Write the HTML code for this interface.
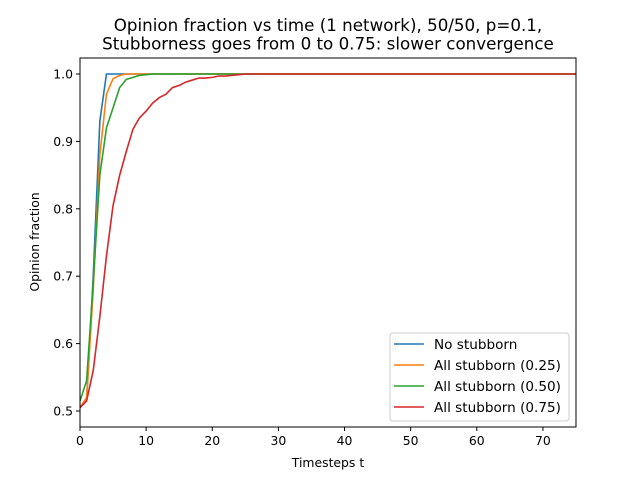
<!DOCTYPE html>
<html><head><meta charset="utf-8"><style>body{margin:0;background:#fff}svg{font-family:"DejaVu Sans","Liberation Sans",sans-serif}</style></head>
<body>
<svg id="c" width="640" height="480"></svg>
<script>
const xTicks=[0,10,20,30,40,50,60,70];
const yTicks=[0.5,0.6,0.7,0.8,0.9,1.0];
const seriesNames=["No stubborn","All stubborn (0.25)","All stubborn (0.50)","All stubborn (0.75)"];
const colors=["#1f77b4","#ff7f0e","#2ca02c","#d62728"];
const sNone=[0.505,0.515,0.70,0.93,1,1,1,1,1,1,1,1,1,1,1,1,1,1,1,1,1,1,1,1,1,1,1,1,1,1,1,1,1,1,1,1,1,1,1,1,1,1,1,1,1,1,1,1,1,1,1,1,1,1,1,1,1,1,1,1,1,1,1,1,1,1,1,1,1,1,1,1,1,1,1,1];
const s25=[0.505,0.52,0.68,0.88,0.97,0.993,0.998,1,1,1,1,1,1,1,1,1,1,1,1,1,1,1,1,1,1,1,1,1,1,1,1,1,1,1,1,1,1,1,1,1,1,1,1,1,1,1,1,1,1,1,1,1,1,1,1,1,1,1,1,1,1,1,1,1,1,1,1,1,1,1,1,1,1,1,1,1];
const s50=[0.515,0.545,0.69,0.85,0.92,0.95,0.98,0.992,0.995,0.998,0.999,1,1,1,1,1,1,1,1,1,1,1,1,1,1,1,1,1,1,1,1,1,1,1,1,1,1,1,1,1,1,1,1,1,1,1,1,1,1,1,1,1,1,1,1,1,1,1,1,1,1,1,1,1,1,1,1,1,1,1,1,1,1,1,1,1];
const s75=[0.505,0.515,0.56,0.64,0.73,0.805,0.85,0.885,0.918,0.935,0.945,0.957,0.965,0.97,0.98,0.983,0.988,0.991,0.994,0.994,0.995,0.997,0.997,0.998,0.999,1,1,1,1,1,1,1,1,1,1,1,1,1,1,1,1,1,1,1,1,1,1,1,1,1,1,1,1,1,1,1,1,1,1,1,1,1,1,1,1,1,1,1,1,1,1,1,1,1,1,1];
const allSeries=[sNone,s25,s50,s75];
const L=80,R=576,T=58,B=427;
const xs=v=>L+(v-0)/(75-0)*(R-L);
const ys=v=>411-(v-0.5)/0.5*(411-74);
const svg=document.getElementById('c');const NS="http://www.w3.org/2000/svg";
function mk(t,a,p){const e=document.createElementNS(NS,t);for(const k in a)e.setAttribute(k,a[k]);(p||svg).appendChild(e);return e;}
const title=mk('text',{x:328,y:31,'text-anchor':'middle','font-size':16.7});


const t1=mk('tspan',{x:328,dy:0},title);t1.textContent="Opinion fraction vs time (1 network), 50/50, p=0.1,";
const t2=mk('tspan',{x:328,dy:18.5},title);t2.textContent="Stubborness goes from 0 to 0.75: slower convergence";
const clip=mk('clipPath',{id:'cp'});mk('rect',{x:L,y:T,width:R-L,height:B-T},clip);
allSeries.forEach((s,i)=>{
 const pts=s.map((v,k)=>xs(k).toFixed(2)+','+ys(v).toFixed(2)).join(' ');
 const pl=mk('polyline',{points:pts,fill:'none',stroke:colors[i],'stroke-width':1.6,'clip-path':'url(#cp)'});
 
 
});
const frame=mk('rect',{x:L,y:T,width:R-L,height:B-T,fill:'none',stroke:'#000','stroke-width':1});


xTicks.forEach(v=>{const x=xs(v);mk('line',{x1:x,x2:x,y1:B,y2:B+4,stroke:'#000'});
 const t=mk('text',{x:x,y:B+18,'text-anchor':'middle','font-size':12.4});t.textContent=v;
 
 });
yTicks.forEach(v=>{const y=ys(v);mk('line',{x1:L-4,x2:L,y1:y,y2:y,stroke:'#000'});
 const t=mk('text',{x:L-7,y:y+4.5,'text-anchor':'end','font-size':12.4});t.textContent=v.toFixed(1);
 
 });
const xl=mk('text',{x:328,y:467,'text-anchor':'middle','font-size':12.4});xl.textContent="Timesteps t";


const yl=mk('text',{x:0,y:0,'text-anchor':'middle','font-size':12.4,transform:'translate(39,242) rotate(-90)'});yl.textContent="Opinion fraction";


const lg=mk('g',{});


mk('rect',{x:390,y:333,width:179,height:88,rx:3,fill:'#fff','fill-opacity':0.8,stroke:'#ccc'},lg);
seriesNames.forEach((n,i)=>{const y=344+i*21;
 const ln=mk('line',{x1:394,x2:424,y1:y,y2:y,stroke:colors[i],'stroke-width':1.6},lg);
 
 
 const t=mk('text',{x:434,y:y+5,'font-size':13.6},lg);t.textContent=n;
 
 });
</script>
</body></html>
